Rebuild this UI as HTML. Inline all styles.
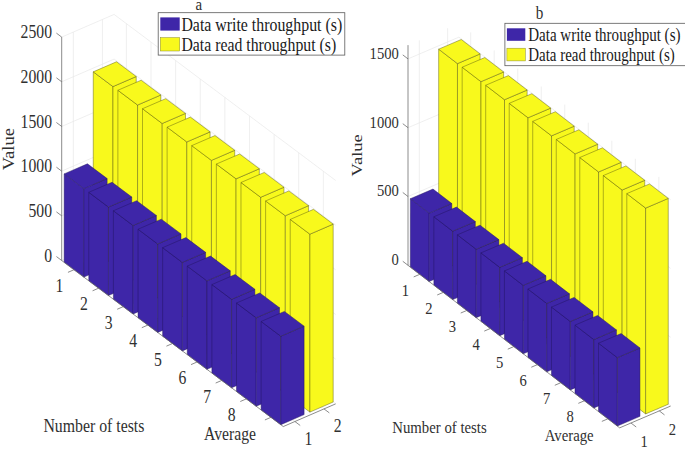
<!DOCTYPE html>
<html><head><meta charset="utf-8"><style>
html,body{margin:0;padding:0;background:#fff;}
svg{display:block;font-family:"Liberation Serif",serif;fill:#303030;}
.lg{fill:#1a1a1a;}
</style></head><body>
<svg width="685" height="452" viewBox="0 0 685 452">
<rect width="685" height="452" fill="#fff"/>
<line x1="61.70" y1="260.50" x2="114.08" y2="237.82" stroke="#e8e8e8" stroke-width="0.7"/>
<line x1="114.08" y1="237.82" x2="335.66" y2="403.87" stroke="#e8e8e8" stroke-width="0.7"/>
<line x1="61.70" y1="215.82" x2="114.08" y2="193.14" stroke="#e8e8e8" stroke-width="0.7"/>
<line x1="114.08" y1="193.14" x2="335.66" y2="359.19" stroke="#e8e8e8" stroke-width="0.7"/>
<line x1="61.70" y1="171.14" x2="114.08" y2="148.46" stroke="#e8e8e8" stroke-width="0.7"/>
<line x1="114.08" y1="148.46" x2="335.66" y2="314.51" stroke="#e8e8e8" stroke-width="0.7"/>
<line x1="61.70" y1="126.46" x2="114.08" y2="103.78" stroke="#e8e8e8" stroke-width="0.7"/>
<line x1="114.08" y1="103.78" x2="335.66" y2="269.83" stroke="#e8e8e8" stroke-width="0.7"/>
<line x1="61.70" y1="81.78" x2="114.08" y2="59.10" stroke="#e8e8e8" stroke-width="0.7"/>
<line x1="114.08" y1="59.10" x2="335.66" y2="225.15" stroke="#e8e8e8" stroke-width="0.7"/>
<line x1="61.70" y1="37.10" x2="114.08" y2="14.42" stroke="#e8e8e8" stroke-width="0.7"/>
<line x1="114.08" y1="14.42" x2="335.66" y2="180.47" stroke="#e8e8e8" stroke-width="0.7"/>
<line x1="73.34" y1="255.46" x2="73.34" y2="32.06" stroke="#e8e8e8" stroke-width="0.7"/>
<line x1="73.34" y1="255.46" x2="294.92" y2="421.51" stroke="#e8e8e8" stroke-width="0.7"/>
<line x1="102.44" y1="242.86" x2="102.44" y2="19.46" stroke="#e8e8e8" stroke-width="0.7"/>
<line x1="102.44" y1="242.86" x2="324.02" y2="408.91" stroke="#e8e8e8" stroke-width="0.7"/>
<line x1="126.39" y1="247.04" x2="126.39" y2="23.65" stroke="#e8e8e8" stroke-width="0.7"/>
<line x1="74.01" y1="269.73" x2="126.39" y2="247.04" stroke="#e8e8e8" stroke-width="0.7"/>
<line x1="151.01" y1="265.50" x2="151.01" y2="42.10" stroke="#e8e8e8" stroke-width="0.7"/>
<line x1="98.63" y1="288.18" x2="151.01" y2="265.50" stroke="#e8e8e8" stroke-width="0.7"/>
<line x1="175.63" y1="283.94" x2="175.63" y2="60.55" stroke="#e8e8e8" stroke-width="0.7"/>
<line x1="123.25" y1="306.62" x2="175.63" y2="283.94" stroke="#e8e8e8" stroke-width="0.7"/>
<line x1="200.25" y1="302.39" x2="200.25" y2="79.00" stroke="#e8e8e8" stroke-width="0.7"/>
<line x1="147.87" y1="325.07" x2="200.25" y2="302.39" stroke="#e8e8e8" stroke-width="0.7"/>
<line x1="224.87" y1="320.84" x2="224.87" y2="97.44" stroke="#e8e8e8" stroke-width="0.7"/>
<line x1="172.49" y1="343.52" x2="224.87" y2="320.84" stroke="#e8e8e8" stroke-width="0.7"/>
<line x1="249.49" y1="339.29" x2="249.49" y2="115.89" stroke="#e8e8e8" stroke-width="0.7"/>
<line x1="197.11" y1="361.98" x2="249.49" y2="339.29" stroke="#e8e8e8" stroke-width="0.7"/>
<line x1="274.11" y1="357.75" x2="274.11" y2="134.35" stroke="#e8e8e8" stroke-width="0.7"/>
<line x1="221.73" y1="380.43" x2="274.11" y2="357.75" stroke="#e8e8e8" stroke-width="0.7"/>
<line x1="298.73" y1="376.19" x2="298.73" y2="152.80" stroke="#e8e8e8" stroke-width="0.7"/>
<line x1="246.35" y1="398.88" x2="298.73" y2="376.19" stroke="#e8e8e8" stroke-width="0.7"/>
<line x1="323.35" y1="394.64" x2="323.35" y2="171.25" stroke="#e8e8e8" stroke-width="0.7"/>
<line x1="270.97" y1="417.32" x2="323.35" y2="394.64" stroke="#e8e8e8" stroke-width="0.7"/>
<polygon points="93.26,249.75 112.96,264.50 112.96,86.59 93.26,71.83" fill="#f8f91c" stroke="#55550f" stroke-width="0.45" stroke-linejoin="round"/>
<polygon points="112.96,264.50 136.24,254.42 136.24,76.51 112.96,86.59" fill="#f8f91c" stroke="#55550f" stroke-width="0.45" stroke-linejoin="round"/>
<polygon points="93.26,71.83 116.54,61.75 136.24,76.51 112.96,86.59" fill="#f8f91c" stroke="#55550f" stroke-width="0.45" stroke-linejoin="round"/>
<polygon points="117.88,268.19 137.58,282.95 137.58,105.04 117.88,90.28" fill="#f8f91c" stroke="#55550f" stroke-width="0.45" stroke-linejoin="round"/>
<polygon points="137.58,282.95 160.86,272.88 160.86,94.96 137.58,105.04" fill="#f8f91c" stroke="#55550f" stroke-width="0.45" stroke-linejoin="round"/>
<polygon points="117.88,90.28 141.16,80.20 160.86,94.96 137.58,105.04" fill="#f8f91c" stroke="#55550f" stroke-width="0.45" stroke-linejoin="round"/>
<polygon points="142.50,286.64 162.20,301.40 162.20,123.49 142.50,108.73" fill="#f8f91c" stroke="#55550f" stroke-width="0.45" stroke-linejoin="round"/>
<polygon points="162.20,301.40 185.48,291.32 185.48,113.41 162.20,123.49" fill="#f8f91c" stroke="#55550f" stroke-width="0.45" stroke-linejoin="round"/>
<polygon points="142.50,108.73 165.78,98.65 185.48,113.41 162.20,123.49" fill="#f8f91c" stroke="#55550f" stroke-width="0.45" stroke-linejoin="round"/>
<polygon points="167.12,305.10 186.82,319.86 186.82,141.94 167.12,127.18" fill="#f8f91c" stroke="#55550f" stroke-width="0.45" stroke-linejoin="round"/>
<polygon points="186.82,319.86 210.10,309.77 210.10,131.86 186.82,141.94" fill="#f8f91c" stroke="#55550f" stroke-width="0.45" stroke-linejoin="round"/>
<polygon points="167.12,127.18 190.40,117.10 210.10,131.86 186.82,141.94" fill="#f8f91c" stroke="#55550f" stroke-width="0.45" stroke-linejoin="round"/>
<polygon points="191.74,323.55 211.44,338.31 211.44,160.39 191.74,145.63" fill="#f8f91c" stroke="#55550f" stroke-width="0.45" stroke-linejoin="round"/>
<polygon points="211.44,338.31 234.72,328.23 234.72,150.31 211.44,160.39" fill="#f8f91c" stroke="#55550f" stroke-width="0.45" stroke-linejoin="round"/>
<polygon points="191.74,145.63 215.02,135.55 234.72,150.31 211.44,160.39" fill="#f8f91c" stroke="#55550f" stroke-width="0.45" stroke-linejoin="round"/>
<polygon points="216.36,342.00 236.06,356.75 236.06,178.84 216.36,164.08" fill="#f8f91c" stroke="#55550f" stroke-width="0.45" stroke-linejoin="round"/>
<polygon points="236.06,356.75 259.34,346.68 259.34,168.76 236.06,178.84" fill="#f8f91c" stroke="#55550f" stroke-width="0.45" stroke-linejoin="round"/>
<polygon points="216.36,164.08 239.64,154.00 259.34,168.76 236.06,178.84" fill="#f8f91c" stroke="#55550f" stroke-width="0.45" stroke-linejoin="round"/>
<polygon points="240.98,360.44 260.68,375.21 260.68,197.29 240.98,182.53" fill="#f8f91c" stroke="#55550f" stroke-width="0.45" stroke-linejoin="round"/>
<polygon points="260.68,375.21 283.96,365.12 283.96,187.21 260.68,197.29" fill="#f8f91c" stroke="#55550f" stroke-width="0.45" stroke-linejoin="round"/>
<polygon points="240.98,182.53 264.26,172.45 283.96,187.21 260.68,197.29" fill="#f8f91c" stroke="#55550f" stroke-width="0.45" stroke-linejoin="round"/>
<polygon points="265.60,378.89 285.30,393.65 285.30,215.74 265.60,200.98" fill="#f8f91c" stroke="#55550f" stroke-width="0.45" stroke-linejoin="round"/>
<polygon points="285.30,393.65 308.58,383.57 308.58,205.66 285.30,215.74" fill="#f8f91c" stroke="#55550f" stroke-width="0.45" stroke-linejoin="round"/>
<polygon points="265.60,200.98 288.88,190.90 308.58,205.66 285.30,215.74" fill="#f8f91c" stroke="#55550f" stroke-width="0.45" stroke-linejoin="round"/>
<polygon points="290.22,397.35 309.92,412.11 309.92,234.19 290.22,219.43" fill="#f8f91c" stroke="#55550f" stroke-width="0.45" stroke-linejoin="round"/>
<polygon points="309.92,412.11 333.20,402.02 333.20,224.11 309.92,234.19" fill="#f8f91c" stroke="#55550f" stroke-width="0.45" stroke-linejoin="round"/>
<polygon points="290.22,219.43 313.50,209.35 333.20,224.11 309.92,234.19" fill="#f8f91c" stroke="#55550f" stroke-width="0.45" stroke-linejoin="round"/>
<polygon points="64.16,262.35 83.86,277.11 83.86,188.64 64.16,173.88" fill="#3e26a8" stroke="#22145f" stroke-width="0.45" stroke-linejoin="round"/>
<polygon points="83.86,277.11 107.14,267.03 107.14,178.56 83.86,188.64" fill="#3e26a8" stroke="#22145f" stroke-width="0.45" stroke-linejoin="round"/>
<polygon points="64.16,173.88 87.44,163.80 107.14,178.56 83.86,188.64" fill="#3e26a8" stroke="#22145f" stroke-width="0.45" stroke-linejoin="round"/>
<polygon points="88.78,280.80 108.48,295.56 108.48,207.09 88.78,192.33" fill="#3e26a8" stroke="#22145f" stroke-width="0.45" stroke-linejoin="round"/>
<polygon points="108.48,295.56 131.76,285.48 131.76,197.01 108.48,207.09" fill="#3e26a8" stroke="#22145f" stroke-width="0.45" stroke-linejoin="round"/>
<polygon points="88.78,192.33 112.06,182.25 131.76,197.01 108.48,207.09" fill="#3e26a8" stroke="#22145f" stroke-width="0.45" stroke-linejoin="round"/>
<polygon points="113.40,299.25 133.10,314.00 133.10,225.54 113.40,210.78" fill="#3e26a8" stroke="#22145f" stroke-width="0.45" stroke-linejoin="round"/>
<polygon points="133.10,314.00 156.38,303.93 156.38,215.46 133.10,225.54" fill="#3e26a8" stroke="#22145f" stroke-width="0.45" stroke-linejoin="round"/>
<polygon points="113.40,210.78 136.68,200.70 156.38,215.46 133.10,225.54" fill="#3e26a8" stroke="#22145f" stroke-width="0.45" stroke-linejoin="round"/>
<polygon points="138.02,317.69 157.72,332.45 157.72,243.99 138.02,229.23" fill="#3e26a8" stroke="#22145f" stroke-width="0.45" stroke-linejoin="round"/>
<polygon points="157.72,332.45 181.00,322.38 181.00,233.91 157.72,243.99" fill="#3e26a8" stroke="#22145f" stroke-width="0.45" stroke-linejoin="round"/>
<polygon points="138.02,229.23 161.30,219.15 181.00,233.91 157.72,243.99" fill="#3e26a8" stroke="#22145f" stroke-width="0.45" stroke-linejoin="round"/>
<polygon points="162.64,336.14 182.34,350.90 182.34,262.44 162.64,247.68" fill="#3e26a8" stroke="#22145f" stroke-width="0.45" stroke-linejoin="round"/>
<polygon points="182.34,350.90 205.62,340.83 205.62,252.36 182.34,262.44" fill="#3e26a8" stroke="#22145f" stroke-width="0.45" stroke-linejoin="round"/>
<polygon points="162.64,247.68 185.92,237.60 205.62,252.36 182.34,262.44" fill="#3e26a8" stroke="#22145f" stroke-width="0.45" stroke-linejoin="round"/>
<polygon points="187.26,354.59 206.96,369.36 206.96,280.89 187.26,266.13" fill="#3e26a8" stroke="#22145f" stroke-width="0.45" stroke-linejoin="round"/>
<polygon points="206.96,369.36 230.24,359.28 230.24,270.81 206.96,280.89" fill="#3e26a8" stroke="#22145f" stroke-width="0.45" stroke-linejoin="round"/>
<polygon points="187.26,266.13 210.54,256.05 230.24,270.81 206.96,280.89" fill="#3e26a8" stroke="#22145f" stroke-width="0.45" stroke-linejoin="round"/>
<polygon points="211.88,373.04 231.58,387.81 231.58,299.34 211.88,284.58" fill="#3e26a8" stroke="#22145f" stroke-width="0.45" stroke-linejoin="round"/>
<polygon points="231.58,387.81 254.86,377.73 254.86,289.26 231.58,299.34" fill="#3e26a8" stroke="#22145f" stroke-width="0.45" stroke-linejoin="round"/>
<polygon points="211.88,284.58 235.16,274.50 254.86,289.26 231.58,299.34" fill="#3e26a8" stroke="#22145f" stroke-width="0.45" stroke-linejoin="round"/>
<polygon points="236.50,391.50 256.20,406.25 256.20,317.79 236.50,303.03" fill="#3e26a8" stroke="#22145f" stroke-width="0.45" stroke-linejoin="round"/>
<polygon points="256.20,406.25 279.48,396.18 279.48,307.71 256.20,317.79" fill="#3e26a8" stroke="#22145f" stroke-width="0.45" stroke-linejoin="round"/>
<polygon points="236.50,303.03 259.78,292.95 279.48,307.71 256.20,317.79" fill="#3e26a8" stroke="#22145f" stroke-width="0.45" stroke-linejoin="round"/>
<polygon points="261.12,409.94 280.82,424.71 280.82,336.24 261.12,321.48" fill="#3e26a8" stroke="#22145f" stroke-width="0.45" stroke-linejoin="round"/>
<polygon points="280.82,424.71 304.10,414.62 304.10,326.16 280.82,336.24" fill="#3e26a8" stroke="#22145f" stroke-width="0.45" stroke-linejoin="round"/>
<polygon points="261.12,321.48 284.40,311.40 304.10,326.16 280.82,336.24" fill="#3e26a8" stroke="#22145f" stroke-width="0.45" stroke-linejoin="round"/>
<line x1="61.70" y1="260.50" x2="61.70" y2="37.10" stroke="#666" stroke-width="0.75"/>
<line x1="61.70" y1="260.50" x2="283.28" y2="426.55" stroke="#666" stroke-width="0.75"/>
<line x1="283.28" y1="426.55" x2="335.66" y2="403.87" stroke="#666" stroke-width="0.75"/>
<line x1="61.70" y1="260.50" x2="56.42" y2="256.54" stroke="#666" stroke-width="0.75"/>
<text transform="translate(52.0,261.5) scale(0.845,1)" text-anchor="end" font-size="18.6">0</text>
<line x1="61.70" y1="215.82" x2="56.42" y2="211.86" stroke="#666" stroke-width="0.75"/>
<text transform="translate(52.0,216.9) scale(0.845,1)" text-anchor="end" font-size="18.6">500</text>
<line x1="61.70" y1="171.14" x2="56.42" y2="167.18" stroke="#666" stroke-width="0.75"/>
<text transform="translate(52.0,172.2) scale(0.845,1)" text-anchor="end" font-size="18.6">1000</text>
<line x1="61.70" y1="126.46" x2="56.42" y2="122.50" stroke="#666" stroke-width="0.75"/>
<text transform="translate(52.0,127.5) scale(0.845,1)" text-anchor="end" font-size="18.6">1500</text>
<line x1="61.70" y1="81.78" x2="56.42" y2="77.82" stroke="#666" stroke-width="0.75"/>
<text transform="translate(52.0,82.8) scale(0.845,1)" text-anchor="end" font-size="18.6">2000</text>
<line x1="61.70" y1="37.10" x2="56.42" y2="33.14" stroke="#666" stroke-width="0.75"/>
<text transform="translate(52.0,38.1) scale(0.845,1)" text-anchor="end" font-size="18.6">2500</text>
<line x1="74.01" y1="269.73" x2="67.95" y2="272.35" stroke="#666" stroke-width="0.75"/>
<text transform="translate(59.4,291.8) scale(0.845,1)" text-anchor="middle" font-size="18.6">1</text>
<line x1="98.63" y1="288.18" x2="92.57" y2="290.80" stroke="#666" stroke-width="0.75"/>
<text transform="translate(84.0,310.3) scale(0.845,1)" text-anchor="middle" font-size="18.6">2</text>
<line x1="123.25" y1="306.62" x2="117.19" y2="309.25" stroke="#666" stroke-width="0.75"/>
<text transform="translate(108.6,328.7) scale(0.845,1)" text-anchor="middle" font-size="18.6">3</text>
<line x1="147.87" y1="325.07" x2="141.81" y2="327.70" stroke="#666" stroke-width="0.75"/>
<text transform="translate(133.2,347.2) scale(0.845,1)" text-anchor="middle" font-size="18.6">4</text>
<line x1="172.49" y1="343.52" x2="166.43" y2="346.15" stroke="#666" stroke-width="0.75"/>
<text transform="translate(157.8,365.6) scale(0.845,1)" text-anchor="middle" font-size="18.6">5</text>
<line x1="197.11" y1="361.98" x2="191.05" y2="364.60" stroke="#666" stroke-width="0.75"/>
<text transform="translate(182.5,384.1) scale(0.845,1)" text-anchor="middle" font-size="18.6">6</text>
<line x1="221.73" y1="380.43" x2="215.67" y2="383.05" stroke="#666" stroke-width="0.75"/>
<text transform="translate(207.1,402.5) scale(0.845,1)" text-anchor="middle" font-size="18.6">7</text>
<line x1="246.35" y1="398.88" x2="240.29" y2="401.50" stroke="#666" stroke-width="0.75"/>
<text transform="translate(231.7,421.0) scale(0.845,1)" text-anchor="middle" font-size="18.6">8</text>
<line x1="270.97" y1="417.32" x2="264.91" y2="419.95" stroke="#666" stroke-width="0.75"/>
<line x1="294.92" y1="421.51" x2="300.20" y2="425.47" stroke="#666" stroke-width="0.75"/>
<text transform="translate(308.5,444.8) scale(0.845,1)" text-anchor="middle" font-size="18.6">1</text>
<line x1="324.02" y1="408.91" x2="329.30" y2="412.87" stroke="#666" stroke-width="0.75"/>
<text transform="translate(337.6,432.2) scale(0.845,1)" text-anchor="middle" font-size="18.6">2</text>
<line x1="408.00" y1="265.30" x2="458.94" y2="243.52" stroke="#e8e8e8" stroke-width="0.7"/>
<line x1="458.94" y1="243.52" x2="670.62" y2="406.06" stroke="#e8e8e8" stroke-width="0.7"/>
<line x1="408.00" y1="196.50" x2="458.94" y2="174.72" stroke="#e8e8e8" stroke-width="0.7"/>
<line x1="458.94" y1="174.72" x2="670.62" y2="337.26" stroke="#e8e8e8" stroke-width="0.7"/>
<line x1="408.00" y1="127.70" x2="458.94" y2="105.92" stroke="#e8e8e8" stroke-width="0.7"/>
<line x1="458.94" y1="105.92" x2="670.62" y2="268.46" stroke="#e8e8e8" stroke-width="0.7"/>
<line x1="408.00" y1="58.90" x2="458.94" y2="37.12" stroke="#e8e8e8" stroke-width="0.7"/>
<line x1="458.94" y1="37.12" x2="670.62" y2="199.66" stroke="#e8e8e8" stroke-width="0.7"/>
<line x1="419.32" y1="260.46" x2="419.32" y2="40.30" stroke="#e8e8e8" stroke-width="0.7"/>
<line x1="419.32" y1="260.46" x2="631.00" y2="423.00" stroke="#e8e8e8" stroke-width="0.7"/>
<line x1="447.62" y1="248.36" x2="447.62" y2="28.20" stroke="#e8e8e8" stroke-width="0.7"/>
<line x1="447.62" y1="248.36" x2="659.30" y2="410.90" stroke="#e8e8e8" stroke-width="0.7"/>
<line x1="470.70" y1="252.55" x2="470.70" y2="32.39" stroke="#e8e8e8" stroke-width="0.7"/>
<line x1="419.76" y1="274.33" x2="470.70" y2="252.55" stroke="#e8e8e8" stroke-width="0.7"/>
<line x1="494.22" y1="270.61" x2="494.22" y2="50.45" stroke="#e8e8e8" stroke-width="0.7"/>
<line x1="443.28" y1="292.39" x2="494.22" y2="270.61" stroke="#e8e8e8" stroke-width="0.7"/>
<line x1="517.74" y1="288.67" x2="517.74" y2="68.51" stroke="#e8e8e8" stroke-width="0.7"/>
<line x1="466.80" y1="310.45" x2="517.74" y2="288.67" stroke="#e8e8e8" stroke-width="0.7"/>
<line x1="541.26" y1="306.73" x2="541.26" y2="86.57" stroke="#e8e8e8" stroke-width="0.7"/>
<line x1="490.32" y1="328.51" x2="541.26" y2="306.73" stroke="#e8e8e8" stroke-width="0.7"/>
<line x1="564.78" y1="324.79" x2="564.78" y2="104.63" stroke="#e8e8e8" stroke-width="0.7"/>
<line x1="513.84" y1="346.57" x2="564.78" y2="324.79" stroke="#e8e8e8" stroke-width="0.7"/>
<line x1="588.30" y1="342.85" x2="588.30" y2="122.69" stroke="#e8e8e8" stroke-width="0.7"/>
<line x1="537.36" y1="364.63" x2="588.30" y2="342.85" stroke="#e8e8e8" stroke-width="0.7"/>
<line x1="611.82" y1="360.91" x2="611.82" y2="140.75" stroke="#e8e8e8" stroke-width="0.7"/>
<line x1="560.88" y1="382.69" x2="611.82" y2="360.91" stroke="#e8e8e8" stroke-width="0.7"/>
<line x1="635.34" y1="378.97" x2="635.34" y2="158.81" stroke="#e8e8e8" stroke-width="0.7"/>
<line x1="584.40" y1="400.75" x2="635.34" y2="378.97" stroke="#e8e8e8" stroke-width="0.7"/>
<line x1="658.86" y1="397.03" x2="658.86" y2="176.87" stroke="#e8e8e8" stroke-width="0.7"/>
<line x1="607.92" y1="418.81" x2="658.86" y2="397.03" stroke="#e8e8e8" stroke-width="0.7"/>
<polygon points="438.65,255.01 457.47,269.45 457.47,63.60 438.65,49.16" fill="#f8f91c" stroke="#55550f" stroke-width="0.45" stroke-linejoin="round"/>
<polygon points="457.47,269.45 480.11,259.77 480.11,53.92 457.47,63.60" fill="#f8f91c" stroke="#55550f" stroke-width="0.45" stroke-linejoin="round"/>
<polygon points="438.65,49.16 461.29,39.48 480.11,53.92 457.47,63.60" fill="#f8f91c" stroke="#55550f" stroke-width="0.45" stroke-linejoin="round"/>
<polygon points="462.17,273.07 480.99,287.51 480.99,81.66 462.17,67.22" fill="#f8f91c" stroke="#55550f" stroke-width="0.45" stroke-linejoin="round"/>
<polygon points="480.99,287.51 503.63,277.83 503.63,71.98 480.99,81.66" fill="#f8f91c" stroke="#55550f" stroke-width="0.45" stroke-linejoin="round"/>
<polygon points="462.17,67.22 484.81,57.54 503.63,71.98 480.99,81.66" fill="#f8f91c" stroke="#55550f" stroke-width="0.45" stroke-linejoin="round"/>
<polygon points="485.69,291.13 504.51,305.57 504.51,99.72 485.69,85.28" fill="#f8f91c" stroke="#55550f" stroke-width="0.45" stroke-linejoin="round"/>
<polygon points="504.51,305.57 527.15,295.89 527.15,90.04 504.51,99.72" fill="#f8f91c" stroke="#55550f" stroke-width="0.45" stroke-linejoin="round"/>
<polygon points="485.69,85.28 508.33,75.60 527.15,90.04 504.51,99.72" fill="#f8f91c" stroke="#55550f" stroke-width="0.45" stroke-linejoin="round"/>
<polygon points="509.21,309.19 528.03,323.63 528.03,117.78 509.21,103.34" fill="#f8f91c" stroke="#55550f" stroke-width="0.45" stroke-linejoin="round"/>
<polygon points="528.03,323.63 550.67,313.95 550.67,108.10 528.03,117.78" fill="#f8f91c" stroke="#55550f" stroke-width="0.45" stroke-linejoin="round"/>
<polygon points="509.21,103.34 531.85,93.66 550.67,108.10 528.03,117.78" fill="#f8f91c" stroke="#55550f" stroke-width="0.45" stroke-linejoin="round"/>
<polygon points="532.73,327.25 551.55,341.69 551.55,135.84 532.73,121.40" fill="#f8f91c" stroke="#55550f" stroke-width="0.45" stroke-linejoin="round"/>
<polygon points="551.55,341.69 574.19,332.01 574.19,126.16 551.55,135.84" fill="#f8f91c" stroke="#55550f" stroke-width="0.45" stroke-linejoin="round"/>
<polygon points="532.73,121.40 555.37,111.72 574.19,126.16 551.55,135.84" fill="#f8f91c" stroke="#55550f" stroke-width="0.45" stroke-linejoin="round"/>
<polygon points="556.25,345.31 575.07,359.75 575.07,153.90 556.25,139.46" fill="#f8f91c" stroke="#55550f" stroke-width="0.45" stroke-linejoin="round"/>
<polygon points="575.07,359.75 597.71,350.07 597.71,144.22 575.07,153.90" fill="#f8f91c" stroke="#55550f" stroke-width="0.45" stroke-linejoin="round"/>
<polygon points="556.25,139.46 578.89,129.78 597.71,144.22 575.07,153.90" fill="#f8f91c" stroke="#55550f" stroke-width="0.45" stroke-linejoin="round"/>
<polygon points="579.77,363.37 598.59,377.81 598.59,171.96 579.77,157.52" fill="#f8f91c" stroke="#55550f" stroke-width="0.45" stroke-linejoin="round"/>
<polygon points="598.59,377.81 621.23,368.13 621.23,162.28 598.59,171.96" fill="#f8f91c" stroke="#55550f" stroke-width="0.45" stroke-linejoin="round"/>
<polygon points="579.77,157.52 602.41,147.84 621.23,162.28 598.59,171.96" fill="#f8f91c" stroke="#55550f" stroke-width="0.45" stroke-linejoin="round"/>
<polygon points="603.29,381.43 622.11,395.87 622.11,190.02 603.29,175.58" fill="#f8f91c" stroke="#55550f" stroke-width="0.45" stroke-linejoin="round"/>
<polygon points="622.11,395.87 644.75,386.19 644.75,180.34 622.11,190.02" fill="#f8f91c" stroke="#55550f" stroke-width="0.45" stroke-linejoin="round"/>
<polygon points="603.29,175.58 625.93,165.90 644.75,180.34 622.11,190.02" fill="#f8f91c" stroke="#55550f" stroke-width="0.45" stroke-linejoin="round"/>
<polygon points="626.81,399.49 645.63,413.93 645.63,208.08 626.81,193.64" fill="#f8f91c" stroke="#55550f" stroke-width="0.45" stroke-linejoin="round"/>
<polygon points="645.63,413.93 668.27,404.25 668.27,198.40 645.63,208.08" fill="#f8f91c" stroke="#55550f" stroke-width="0.45" stroke-linejoin="round"/>
<polygon points="626.81,193.64 649.45,183.96 668.27,198.40 645.63,208.08" fill="#f8f91c" stroke="#55550f" stroke-width="0.45" stroke-linejoin="round"/>
<polygon points="410.35,267.11 429.17,281.55 429.17,213.17 410.35,198.72" fill="#3e26a8" stroke="#22145f" stroke-width="0.45" stroke-linejoin="round"/>
<polygon points="429.17,281.55 451.81,271.87 451.81,203.49 429.17,213.17" fill="#3e26a8" stroke="#22145f" stroke-width="0.45" stroke-linejoin="round"/>
<polygon points="410.35,198.72 432.99,189.04 451.81,203.49 429.17,213.17" fill="#3e26a8" stroke="#22145f" stroke-width="0.45" stroke-linejoin="round"/>
<polygon points="433.87,285.17 452.69,299.61 452.69,231.23 433.87,216.78" fill="#3e26a8" stroke="#22145f" stroke-width="0.45" stroke-linejoin="round"/>
<polygon points="452.69,299.61 475.33,289.93 475.33,221.55 452.69,231.23" fill="#3e26a8" stroke="#22145f" stroke-width="0.45" stroke-linejoin="round"/>
<polygon points="433.87,216.78 456.51,207.10 475.33,221.55 452.69,231.23" fill="#3e26a8" stroke="#22145f" stroke-width="0.45" stroke-linejoin="round"/>
<polygon points="457.39,303.23 476.21,317.67 476.21,249.29 457.39,234.84" fill="#3e26a8" stroke="#22145f" stroke-width="0.45" stroke-linejoin="round"/>
<polygon points="476.21,317.67 498.85,307.99 498.85,239.61 476.21,249.29" fill="#3e26a8" stroke="#22145f" stroke-width="0.45" stroke-linejoin="round"/>
<polygon points="457.39,234.84 480.03,225.16 498.85,239.61 476.21,249.29" fill="#3e26a8" stroke="#22145f" stroke-width="0.45" stroke-linejoin="round"/>
<polygon points="480.91,321.29 499.73,335.73 499.73,267.35 480.91,252.90" fill="#3e26a8" stroke="#22145f" stroke-width="0.45" stroke-linejoin="round"/>
<polygon points="499.73,335.73 522.37,326.05 522.37,257.67 499.73,267.35" fill="#3e26a8" stroke="#22145f" stroke-width="0.45" stroke-linejoin="round"/>
<polygon points="480.91,252.90 503.55,243.22 522.37,257.67 499.73,267.35" fill="#3e26a8" stroke="#22145f" stroke-width="0.45" stroke-linejoin="round"/>
<polygon points="504.43,339.35 523.25,353.79 523.25,285.41 504.43,270.96" fill="#3e26a8" stroke="#22145f" stroke-width="0.45" stroke-linejoin="round"/>
<polygon points="523.25,353.79 545.89,344.11 545.89,275.73 523.25,285.41" fill="#3e26a8" stroke="#22145f" stroke-width="0.45" stroke-linejoin="round"/>
<polygon points="504.43,270.96 527.07,261.28 545.89,275.73 523.25,285.41" fill="#3e26a8" stroke="#22145f" stroke-width="0.45" stroke-linejoin="round"/>
<polygon points="527.95,357.41 546.77,371.85 546.77,303.47 527.95,289.02" fill="#3e26a8" stroke="#22145f" stroke-width="0.45" stroke-linejoin="round"/>
<polygon points="546.77,371.85 569.41,362.17 569.41,293.79 546.77,303.47" fill="#3e26a8" stroke="#22145f" stroke-width="0.45" stroke-linejoin="round"/>
<polygon points="527.95,289.02 550.59,279.34 569.41,293.79 546.77,303.47" fill="#3e26a8" stroke="#22145f" stroke-width="0.45" stroke-linejoin="round"/>
<polygon points="551.47,375.47 570.29,389.91 570.29,321.53 551.47,307.08" fill="#3e26a8" stroke="#22145f" stroke-width="0.45" stroke-linejoin="round"/>
<polygon points="570.29,389.91 592.93,380.23 592.93,311.85 570.29,321.53" fill="#3e26a8" stroke="#22145f" stroke-width="0.45" stroke-linejoin="round"/>
<polygon points="551.47,307.08 574.11,297.40 592.93,311.85 570.29,321.53" fill="#3e26a8" stroke="#22145f" stroke-width="0.45" stroke-linejoin="round"/>
<polygon points="574.99,393.53 593.81,407.97 593.81,339.59 574.99,325.14" fill="#3e26a8" stroke="#22145f" stroke-width="0.45" stroke-linejoin="round"/>
<polygon points="593.81,407.97 616.45,398.29 616.45,329.91 593.81,339.59" fill="#3e26a8" stroke="#22145f" stroke-width="0.45" stroke-linejoin="round"/>
<polygon points="574.99,325.14 597.63,315.46 616.45,329.91 593.81,339.59" fill="#3e26a8" stroke="#22145f" stroke-width="0.45" stroke-linejoin="round"/>
<polygon points="598.51,411.59 617.33,426.03 617.33,357.65 598.51,343.20" fill="#3e26a8" stroke="#22145f" stroke-width="0.45" stroke-linejoin="round"/>
<polygon points="617.33,426.03 639.97,416.35 639.97,347.97 617.33,357.65" fill="#3e26a8" stroke="#22145f" stroke-width="0.45" stroke-linejoin="round"/>
<polygon points="598.51,343.20 621.15,333.52 639.97,347.97 617.33,357.65" fill="#3e26a8" stroke="#22145f" stroke-width="0.45" stroke-linejoin="round"/>
<line x1="408.00" y1="265.30" x2="408.00" y2="45.14" stroke="#666" stroke-width="0.75"/>
<line x1="408.00" y1="265.30" x2="619.68" y2="427.84" stroke="#666" stroke-width="0.75"/>
<line x1="619.68" y1="427.84" x2="670.62" y2="406.06" stroke="#666" stroke-width="0.75"/>
<line x1="408.00" y1="265.30" x2="402.77" y2="261.28" stroke="#666" stroke-width="0.75"/>
<text transform="translate(398.8,265.2) scale(0.83,1)" text-anchor="end" font-size="17.6">0</text>
<line x1="408.00" y1="196.50" x2="402.77" y2="192.48" stroke="#666" stroke-width="0.75"/>
<text transform="translate(398.8,196.4) scale(0.83,1)" text-anchor="end" font-size="17.6">500</text>
<line x1="408.00" y1="127.70" x2="402.77" y2="123.68" stroke="#666" stroke-width="0.75"/>
<text transform="translate(398.8,127.6) scale(0.83,1)" text-anchor="end" font-size="17.6">1000</text>
<line x1="408.00" y1="58.90" x2="402.77" y2="54.88" stroke="#666" stroke-width="0.75"/>
<text transform="translate(398.8,58.8) scale(0.83,1)" text-anchor="end" font-size="17.6">1500</text>
<line x1="419.76" y1="274.33" x2="413.69" y2="276.92" stroke="#666" stroke-width="0.75"/>
<text transform="translate(405.5,295.9) scale(0.83,1)" text-anchor="middle" font-size="17.6">1</text>
<line x1="443.28" y1="292.39" x2="437.21" y2="294.98" stroke="#666" stroke-width="0.75"/>
<text transform="translate(429.0,314.0) scale(0.83,1)" text-anchor="middle" font-size="17.6">2</text>
<line x1="466.80" y1="310.45" x2="460.73" y2="313.04" stroke="#666" stroke-width="0.75"/>
<text transform="translate(452.5,332.0) scale(0.83,1)" text-anchor="middle" font-size="17.6">3</text>
<line x1="490.32" y1="328.51" x2="484.25" y2="331.10" stroke="#666" stroke-width="0.75"/>
<text transform="translate(476.1,350.1) scale(0.83,1)" text-anchor="middle" font-size="17.6">4</text>
<line x1="513.84" y1="346.57" x2="507.77" y2="349.16" stroke="#666" stroke-width="0.75"/>
<text transform="translate(499.6,368.2) scale(0.83,1)" text-anchor="middle" font-size="17.6">5</text>
<line x1="537.36" y1="364.63" x2="531.29" y2="367.22" stroke="#666" stroke-width="0.75"/>
<text transform="translate(523.1,386.2) scale(0.83,1)" text-anchor="middle" font-size="17.6">6</text>
<line x1="560.88" y1="382.69" x2="554.81" y2="385.28" stroke="#666" stroke-width="0.75"/>
<text transform="translate(546.6,404.3) scale(0.83,1)" text-anchor="middle" font-size="17.6">7</text>
<line x1="584.40" y1="400.75" x2="578.33" y2="403.34" stroke="#666" stroke-width="0.75"/>
<text transform="translate(570.1,422.3) scale(0.83,1)" text-anchor="middle" font-size="17.6">8</text>
<line x1="607.92" y1="418.81" x2="601.85" y2="421.40" stroke="#666" stroke-width="0.75"/>
<line x1="631.00" y1="423.00" x2="636.23" y2="427.02" stroke="#666" stroke-width="0.75"/>
<text transform="translate(644.2,446.9) scale(0.83,1)" text-anchor="middle" font-size="17.6">1</text>
<line x1="659.30" y1="410.90" x2="664.53" y2="414.92" stroke="#666" stroke-width="0.75"/>
<text transform="translate(672.5,434.8) scale(0.83,1)" text-anchor="middle" font-size="17.6">2</text>
<rect x="158.2" y="12.7" width="186.60000000000002" height="42.400000000000006" fill="#fff" stroke="#5a5a5a" stroke-width="0.8"/>
<rect x="160.29999999999998" y="17.4" width="19.4" height="13.2" fill="#3e26a8"/>
<rect x="160.29999999999998" y="37.599999999999994" width="19.4" height="13.4" fill="#f8f91c" stroke="#8a8a30" stroke-width="0.5"/>
<text x="181.39999999999998" y="30.5" class="lg" font-size="18.8" textLength="160.8" lengthAdjust="spacingAndGlyphs">Data write throughput (s)</text>
<text x="181.39999999999998" y="50.599999999999994" class="lg" font-size="18.8" textLength="154.8" lengthAdjust="spacingAndGlyphs">Data read throughput (s)</text>
<rect x="504.9" y="23.3" width="181.10000000000002" height="42.400000000000006" fill="#fff" stroke="#5a5a5a" stroke-width="0.8"/>
<rect x="506.9" y="28.3" width="18.4" height="12.5" fill="#3e26a8"/>
<rect x="506.9" y="48.2" width="18.4" height="12.7" fill="#f8f91c" stroke="#8a8a30" stroke-width="0.5"/>
<text x="528.1999999999999" y="40.900000000000006" class="lg" font-size="17.8" textLength="152.3" lengthAdjust="spacingAndGlyphs">Data write throughput (s)</text>
<text x="528.1999999999999" y="60.7" class="lg" font-size="17.8" textLength="146.6" lengthAdjust="spacingAndGlyphs">Data read throughput (s)</text>
<text transform="translate(198.8,10.2) scale(0.85,1)" text-anchor="middle" font-size="17.6">a</text>
<text transform="translate(539.6,19.1) scale(0.85,1)" text-anchor="middle" font-size="17.8">b</text>
<text transform="translate(14.2,149.2) scale(0.845,1) rotate(-90)" text-anchor="middle" font-size="18.6">Value</text>
<text transform="translate(362.4,155.3) scale(0.8,1) rotate(-90)" text-anchor="middle" font-size="18.6">Value</text>
<text transform="translate(43.4,431.6) scale(0.851,1)" text-anchor="start" font-size="18.6">Number of tests</text>
<text transform="translate(204.1,440.0) scale(0.842,1)" text-anchor="start" font-size="18.6">Average</text>
<text transform="translate(392.3,433.0) scale(0.84,1)" text-anchor="start" font-size="17.6">Number of tests</text>
<text transform="translate(544.7,441.1) scale(0.84,1)" text-anchor="start" font-size="17.6">Average</text>
</svg></body></html>
